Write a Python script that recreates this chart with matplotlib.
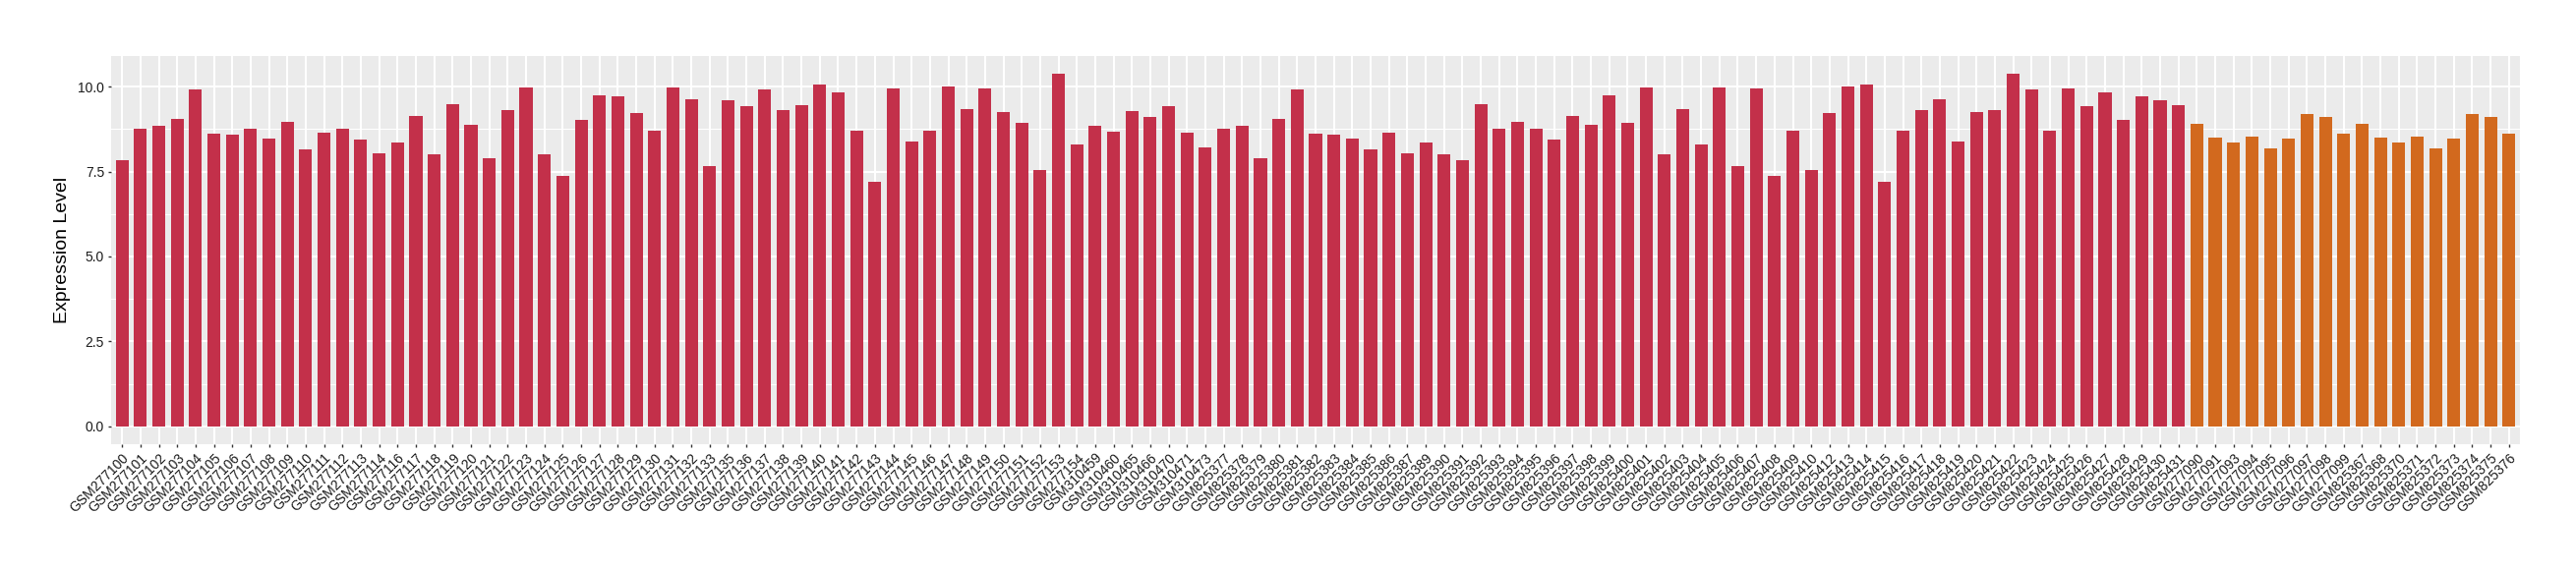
import matplotlib
matplotlib.use("Agg")
import matplotlib.pyplot as plt
import matplotlib.transforms as mtransforms
from matplotlib.ticker import MultipleLocator

plt.rcParams['font.family'] = ['Liberation Sans', 'DejaVu Sans']

samples = [
    "GSM277100", "GSM277101", "GSM277102", "GSM277103", "GSM277104", "GSM277105",
    "GSM277106", "GSM277107", "GSM277108", "GSM277109", "GSM277110", "GSM277111",
    "GSM277112", "GSM277113", "GSM277114", "GSM277116", "GSM277117", "GSM277118",
    "GSM277119", "GSM277120", "GSM277121", "GSM277122", "GSM277123", "GSM277124",
    "GSM277125", "GSM277126", "GSM277127", "GSM277128", "GSM277129", "GSM277130",
    "GSM277131", "GSM277132", "GSM277133", "GSM277135", "GSM277136", "GSM277137",
    "GSM277138", "GSM277139", "GSM277140", "GSM277141", "GSM277142", "GSM277143",
    "GSM277144", "GSM277145", "GSM277146", "GSM277147", "GSM277148", "GSM277149",
    "GSM277150", "GSM277151", "GSM277152", "GSM277153", "GSM277154", "GSM310459",
    "GSM310460", "GSM310465", "GSM310466", "GSM310470", "GSM310471", "GSM310473",
    "GSM825377", "GSM825378", "GSM825379", "GSM825380", "GSM825381", "GSM825382",
    "GSM825383", "GSM825384", "GSM825385", "GSM825386", "GSM825387", "GSM825389",
    "GSM825390", "GSM825391", "GSM825392", "GSM825393", "GSM825394", "GSM825395",
    "GSM825396", "GSM825397", "GSM825398", "GSM825399", "GSM825400", "GSM825401",
    "GSM825402", "GSM825403", "GSM825404", "GSM825405", "GSM825406", "GSM825407",
    "GSM825408", "GSM825409", "GSM825410", "GSM825412", "GSM825413", "GSM825414",
    "GSM825415", "GSM825416", "GSM825417", "GSM825418", "GSM825419", "GSM825420",
    "GSM825421", "GSM825422", "GSM825423", "GSM825424", "GSM825425", "GSM825426",
    "GSM825427", "GSM825428", "GSM825429", "GSM825430", "GSM825431",
    "GSM277090", "GSM277091", "GSM277093", "GSM277094", "GSM277095", "GSM277096",
    "GSM277097", "GSM277098", "GSM277099", "GSM825367", "GSM825368", "GSM825370",
    "GSM825371", "GSM825372", "GSM825373", "GSM825374", "GSM825375", "GSM825376",
]

values = [
    7.84, 8.76, 8.85, 9.05, 9.92, 8.62, 8.59, 8.76, 8.47, 8.97, 8.16, 8.65,
    8.76, 8.45, 8.04, 8.36, 9.14, 8.01, 9.49, 8.88, 7.90, 9.31, 9.98, 8.01,
    7.37, 9.03, 9.75, 9.72, 9.23, 8.71, 9.98, 9.63, 7.66, 9.60, 9.43, 9.92,
    9.31, 9.46, 10.07, 9.84, 8.71, 7.20, 9.95, 8.39, 8.71, 10.01, 9.34, 9.95,
    9.26, 8.94, 7.55, 10.39, 8.30, 8.85, 8.68, 9.29, 9.11, 9.43, 8.65, 8.21,
    8.76, 8.85, 7.90, 9.05, 9.92, 8.62, 8.59, 8.47, 8.16, 8.65, 8.04, 8.36,
    8.01, 7.84, 9.49, 8.76, 8.97, 8.76, 8.45, 9.14, 8.88, 9.75, 8.94, 9.98,
    8.01, 9.34, 8.30, 9.98, 7.66, 9.95, 7.37, 8.71, 7.55, 9.23, 10.01, 10.07,
    7.20, 8.71, 9.31, 9.63, 8.39, 9.26, 9.31, 10.39, 9.92, 8.71, 9.95, 9.43,
    9.84, 9.03, 9.72, 9.60, 9.46,
    8.91, 8.50, 8.36, 8.53, 8.19, 8.47, 9.20, 9.11, 8.62, 8.91, 8.50, 8.36,
    8.53, 8.19, 8.47, 9.20, 9.11, 8.62,
]

groups = ["A"] * 113 + ["B"] * 18
group_colors = {"A": "#C3304A", "B": "#D2691E"}

fig = plt.figure(figsize=(26.2, 5.8), dpi=100)
ax = fig.add_axes([113 / 2620, 1 - 451.7 / 580, (2563 - 113) / 2620, (451.7 - 56.7) / 580])
ax.set_facecolor("#EBEBEB")

x = list(range(len(samples)))
ax.bar(x, values, width=0.7, color=[group_colors[g] for g in groups], zorder=3)

ymax = max(values)
ax.set_ylim(-0.05 * ymax, ymax * 1.05)
ax.set_xlim(-0.6, len(samples) - 1 + 0.6)

ax.yaxis.set_minor_locator(MultipleLocator(1.25))
ax.set_yticks([0, 2.5, 5, 7.5, 10])
ax.set_yticklabels(["0.0", "2.5", "5.0", "7.5", "10.0"])
ax.grid(which="major", axis="both", color="white", linewidth=1.5, zorder=0)
ax.grid(which="minor", axis="y", color="white", linewidth=0.75, zorder=0)
ax.set_axisbelow(True)

ax.set_xticks(x)
ax.set_xticklabels(samples, rotation=45, ha="right", va="top", rotation_mode="anchor",
                   fontsize=10, color="#1A1A1A")
offset = mtransforms.ScaledTranslation(4.5 / 100, 0, fig.dpi_scale_trans)
for lab in ax.get_xticklabels():
    lab.set_transform(lab.get_transform() + offset)

ax.tick_params(axis="y", labelsize=10, labelcolor="#1A1A1A", color="#333333",
               length=2.5, width=1, pad=2.5, which="major")
ax.tick_params(axis="x", color="#333333", length=2.5, width=1, pad=2.5)
ax.tick_params(which="minor", length=0)

for s in ax.spines.values():
    s.set_visible(False)

ax.set_ylabel("Expression Level", fontsize=14, color="black", labelpad=5.5)

fig.savefig("out.png", dpi=100, facecolor="white")
